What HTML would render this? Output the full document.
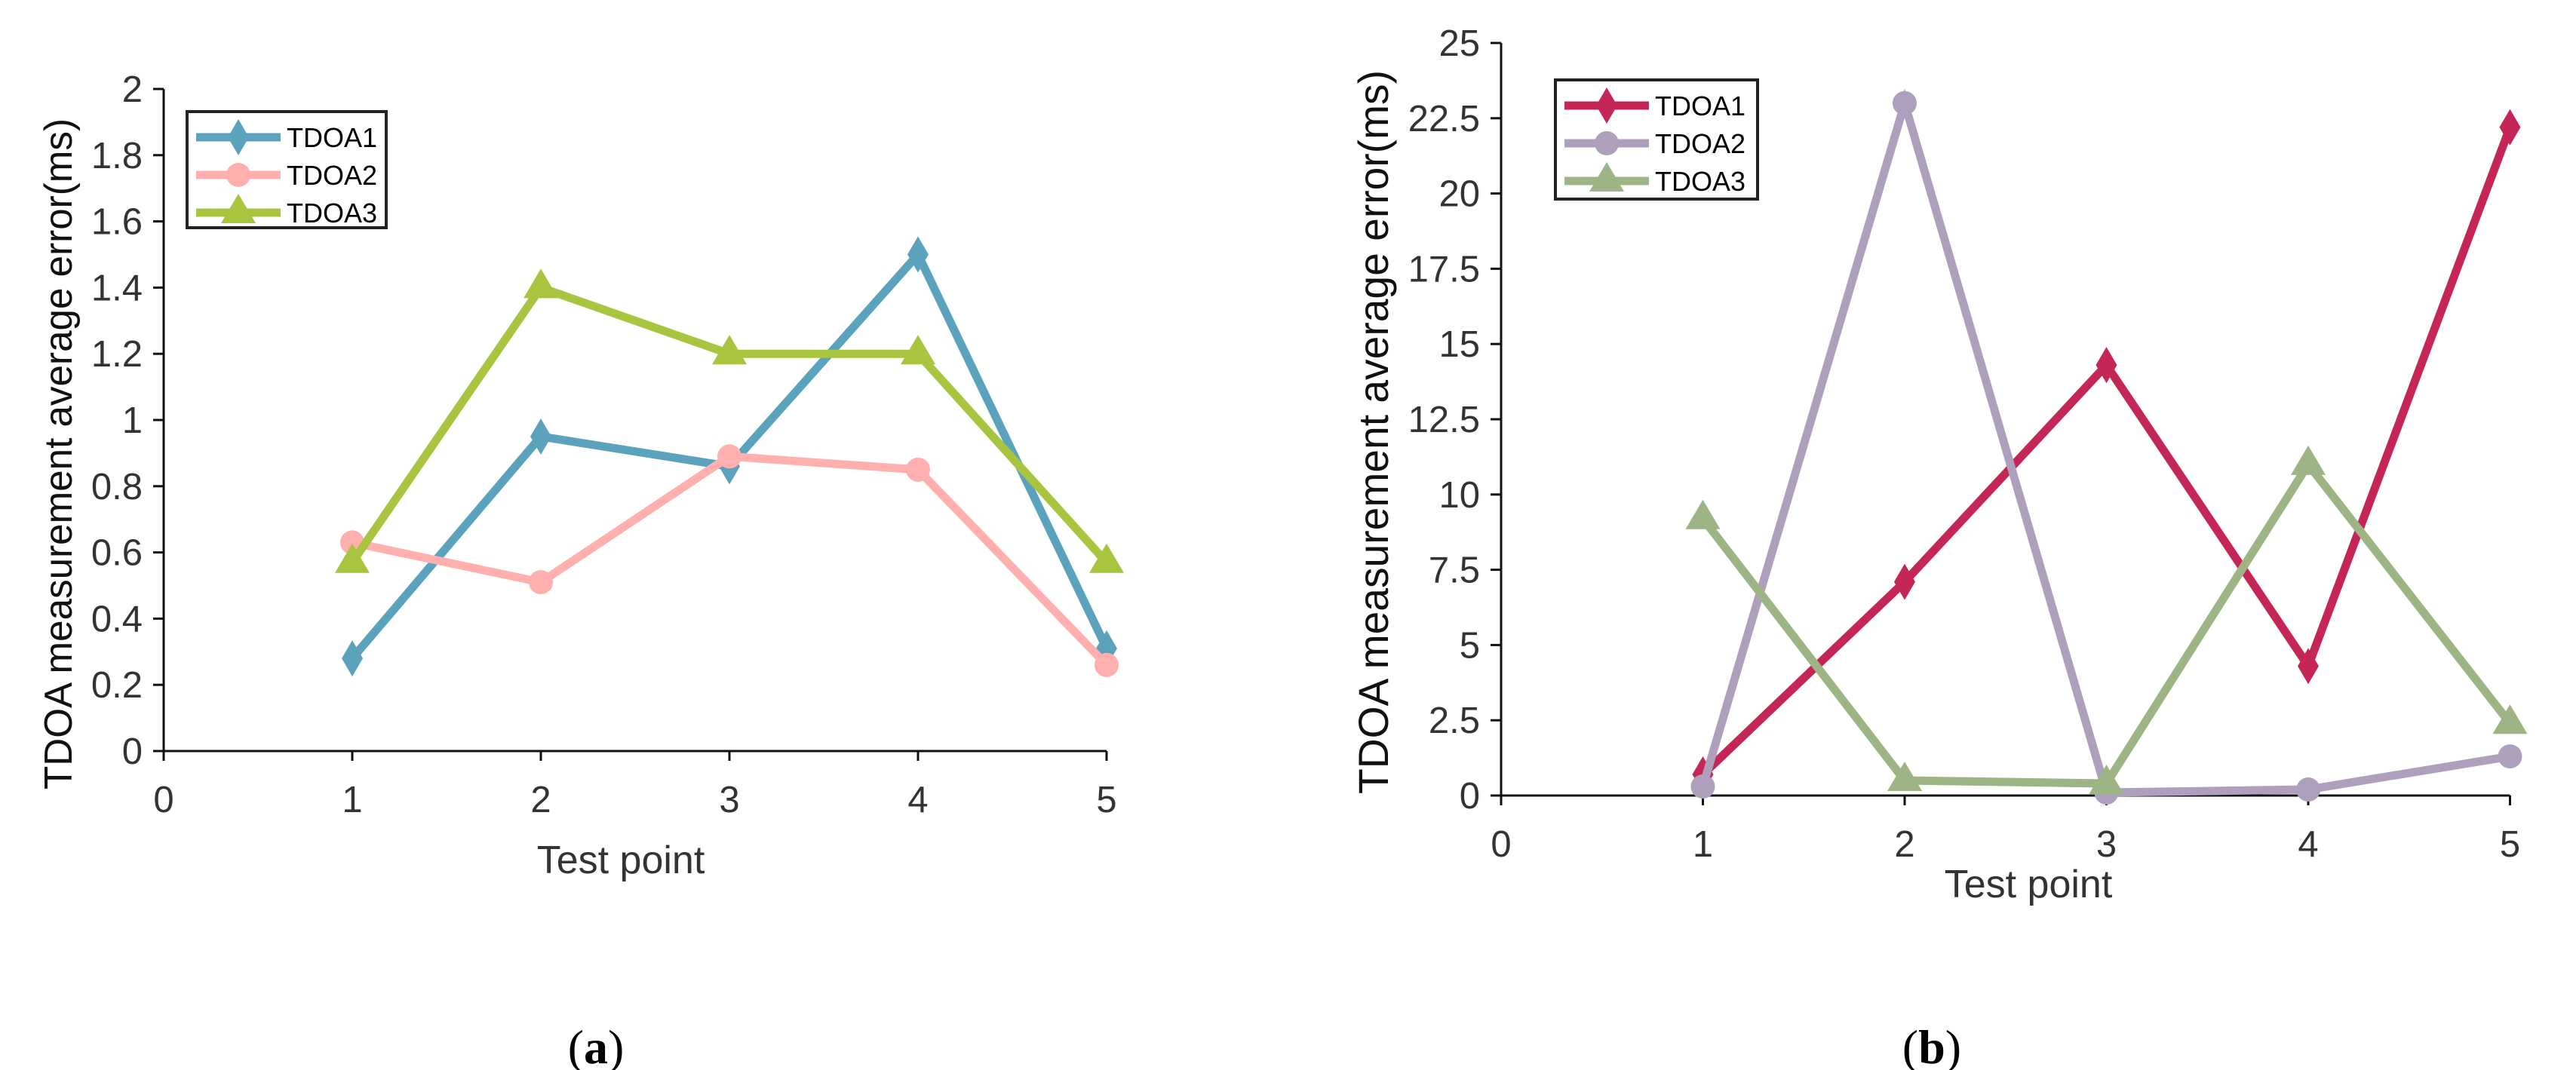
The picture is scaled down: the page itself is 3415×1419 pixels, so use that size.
<!DOCTYPE html>
<html><head><meta charset="utf-8"><style>
html,body{margin:0;padding:0;background:#fff;}
svg{display:block;}
</style></head><body>
<svg id="fig" width="3415" height="1419" viewBox="0 0 3415 1419" xmlns="http://www.w3.org/2000/svg" font-family="Liberation Sans, Arial, sans-serif"></svg>
<script>
const categories = [1, 2, 3, 4, 5];
const xTicks = ["0", "1", "2", "3", "4", "5"];
const seriesNames = ["TDOA1", "TDOA2", "TDOA3"];
const aTDOA1 = [0.28, 0.95, 0.86, 1.5, 0.31];
const aTDOA2 = [0.63, 0.51, 0.89, 0.85, 0.26];
const aTDOA3 = [0.57, 1.4, 1.2, 1.2, 0.57];
const aYTicks = ["0", "0.2", "0.4", "0.6", "0.8", "1", "1.2", "1.4", "1.6", "1.8", "2"];
const bTDOA1 = [0.7, 7.1, 14.3, 4.3, 22.2];
const bTDOA2 = [0.3, 23, 0.1, 0.2, 1.3];
const bTDOA3 = [9.2, 0.5, 0.4, 11, 2.4];
const bYTicks = ["0", "2.5", "5", "7.5", "10", "12.5", "15", "17.5", "20", "22.5", "25"];

const NS = "http://www.w3.org/2000/svg";
const svg = document.getElementById('fig');
function mk(tag, attrs, parent) {
  const e = document.createElementNS(NS, tag);
  for (const k in attrs) e.setAttribute(k, attrs[k]);
  (parent || svg).appendChild(e);
  return e;
}
function marker(g, shape, cx, cy, color) {
  let m;
  if (shape === 'diamond') m = mk('polygon', {points: `${cx},${cy-24} ${cx+14},${cy} ${cx},${cy+24} ${cx-14},${cy}`, fill: color}, g);
  else if (shape === 'circle') m = mk('circle', {cx: cx, cy: cy, r: 16, fill: color}, g);
  else m = mk('polygon', {points: `${cx},${cy-25} ${cx+23},${cy+14} ${cx-23},${cy+14}`, fill: color}, g);
  return m;
}
function chart(o) {
  const g = mk('g', {});
  
  
  const xs = v => o.x0 + v * o.unit;
  const ymax = parseFloat(o.yTicks[o.yTicks.length - 1]);
  const ys = v => o.y0 - v / ymax * (o.y0 - o.yTop);
  const yAxis = mk('line', {x1: o.x0, y1: o.yTop, x2: o.x0, y2: o.y0 + 13, stroke: '#111', 'stroke-width': 3}, g);
  
  
  const xAxis = mk('line', {x1: o.x0 - 14, y1: o.y0, x2: xs(5), y2: o.y0, stroke: '#111', 'stroke-width': 3}, g);
  
  
  o.yTicks.forEach(t => {
    const y = ys(parseFloat(t));
    mk('line', {x1: o.x0 - 14, y1: y, x2: o.x0, y2: y, stroke: '#111', 'stroke-width': 3}, g);
    const tx = mk('text', {x: o.x0 - 28, y: y + 17, 'font-size': 49, fill: '#333', 'text-anchor': 'end'}, g);
    tx.textContent = t;
    
    
  });
  xTicks.forEach((t, i) => {
    const x = xs(parseFloat(t));
    mk('line', {x1: x, y1: o.y0, x2: x, y2: o.y0 + 13, stroke: '#111', 'stroke-width': 3}, g);
    const tx = mk('text', {x: x, y: o.y0 + 81, 'font-size': 49, fill: '#333', 'text-anchor': 'middle'}, g);
    tx.textContent = t;
    
    
  });
  const xt = mk('text', {x: o.xtX, y: o.xtY, 'font-size': 52, fill: '#333', 'text-anchor': 'middle'}, g);
  xt.textContent = 'Test point';
  
  
  const yt = mk('text', {x: 0, y: 0, 'font-size': o.ytSize, fill: '#111', 'text-anchor': 'middle', transform: `translate(${o.ytX},${o.ytY}) rotate(-90)`, textLength: o.ytLen, lengthAdjust: 'spacingAndGlyphs'}, g);
  yt.textContent = 'TDOA measurement average error(ms)';
  
  
  o.series.forEach((vals, si) => {
    const sg = mk('g', {}, g);
    
    
    const pts = vals.map((v, i) => xs(categories[i]) + ',' + ys(v)).join(' ');
    const pl = mk('polyline', {points: pts, fill: 'none', stroke: o.colors[si], 'stroke-width': 11, 'stroke-linejoin': 'miter'}, sg);
    
    
    vals.forEach((v, i) => {
      const m = marker(sg, o.shapes[si], xs(categories[i]), ys(v), o.colors[si]);
      
      
    });
  });
  const lg = mk('g', {}, g);
  
  
  mk('rect', {x: o.lg[0], y: o.lg[1], width: o.lg[2], height: o.lg[3], fill: '#fff', stroke: '#222', 'stroke-width': 4}, lg);
  seriesNames.forEach((n, si) => {
    const e = mk('g', {}, lg);
    
    
    const cy = o.lg[1] + 34 + si * 50;
    const lx = o.lg[0] + 12;
    mk('line', {x1: lx, y1: cy, x2: lx + 112, y2: cy, stroke: o.colors[si], 'stroke-width': 11}, e);
    marker(e, o.shapes[si], lx + 56, cy, o.colors[si]);
    const t = mk('text', {x: lx + 120, y: cy + 13, 'font-size': 36, fill: '#000'}, e);
    t.textContent = n;
  });
  const cap = mk('text', {x: o.capX, y: 1410, 'font-size': 64, fill: '#000', 'text-anchor': 'middle', 'font-family': 'Liberation Serif, serif'}, g);
  cap.innerHTML = '(<tspan font-weight="bold">' + o.cap + '</tspan>)';
  
  
}
chart({name: 'chart-a', x0: 217, unit: 250, y0: 996, yTop: 118, yTicks: aYTicks,
  series: [aTDOA1, aTDOA2, aTDOA3], colors: ['#5ba3bd', '#ffb0ae', '#a9c43f'], shapes: ['diamond', 'circle', 'triangle'],
  lg: [248, 148, 264, 154], xtX: 823, xtY: 1158, ytX: 95, ytY: 602, ytSize: 52, ytLen: 890, capX: 790, cap: 'a'});
chart({name: 'chart-b', x0: 1990, unit: 267.5, y0: 1055, yTop: 57, yTicks: bYTicks,
  series: [bTDOA1, bTDOA2, bTDOA3], colors: ['#c42656', '#ae9fbc', '#9db484'], shapes: ['diamond', 'circle', 'triangle'],
  lg: [2062, 106, 268, 158], xtX: 2689, xtY: 1190, ytX: 1840, ytY: 573, ytSize: 56, ytLen: 960, capX: 2561, cap: 'b'});
</script>
</body></html>
